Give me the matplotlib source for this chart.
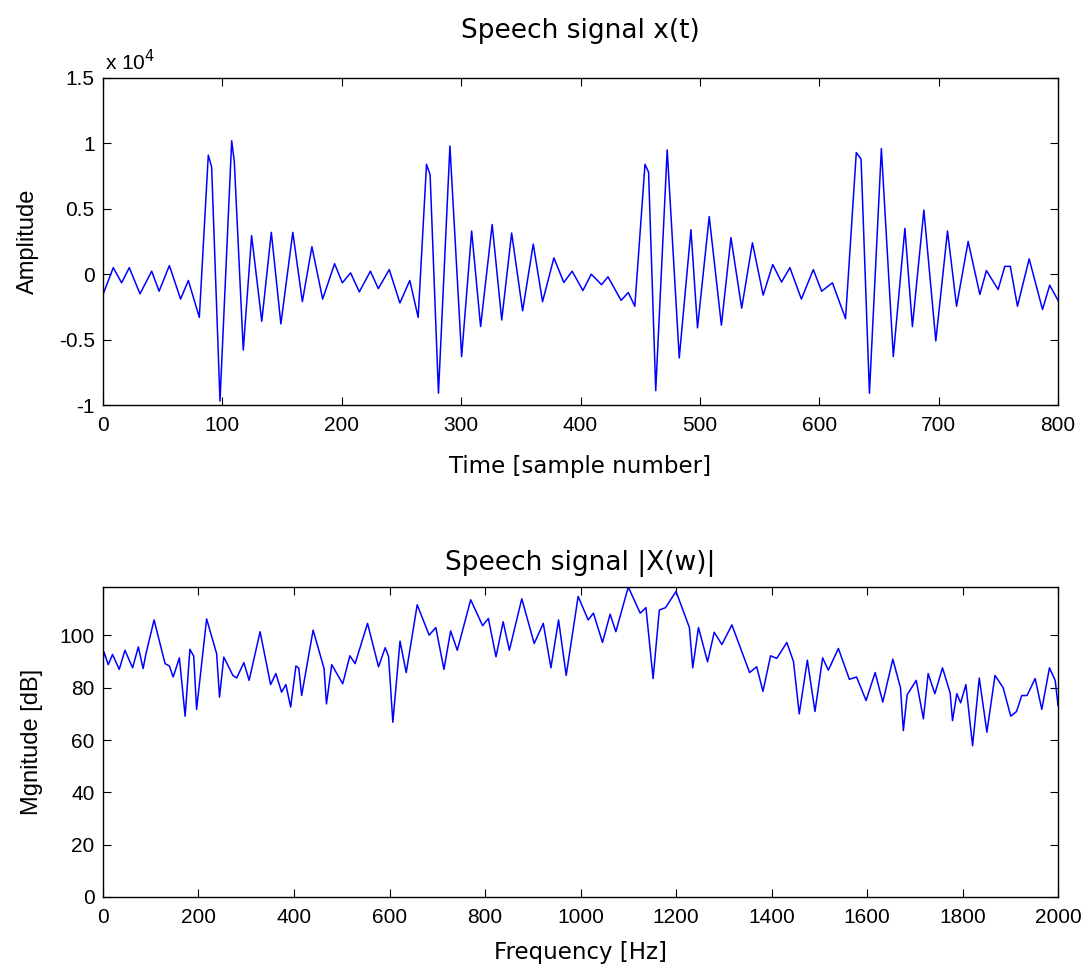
import numpy as np
import matplotlib
matplotlib.use("Agg")
import matplotlib.pyplot as plt
from matplotlib.ticker import FuncFormatter

plt.rcParams['font.family'] = ['Liberation Sans', 'DejaVu Sans']
plt.rcParams['axes.unicode_minus'] = False

# speech waveform, extrema (sample number, amplitude)
t_samples = [0, 8.6, 15.6, 22, 31, 40.8, 47, 55.6, 65, 71.5, 80.7, 88.2, 91, 98, 107.8, 110, 117.5,
             124.5, 133, 141, 149, 159, 167, 175, 184, 194, 200.5, 207.4, 214.7, 224, 230.6,
             239.8, 248.7, 257, 264, 271, 274, 281, 290.6, 300.4, 308.8, 316.3, 326, 334, 342.3,
             351.5, 360.4, 368.2, 377.7, 386, 393, 402, 409, 417.6, 423, 434, 440, 445.5,
             454, 457, 463, 472.6, 482.7, 492.5, 498, 507.8, 518, 526, 535, 544, 553, 561, 568.4,
             575.4, 585, 595, 602, 611, 622, 631, 635, 642, 652, 662, 671.7, 678, 687.6, 697.6,
             707.4, 715, 724.7, 734.5, 740, 749.8, 755.4, 760, 766, 775.8, 787, 793, 800]
amplitude = [-1550, 500, -660, 500, -1500, 230, -1300, 660, -1900, -480, -3300, 9100, 8200, -9700,
             10200, 8600, -5800, 2950, -3600, 3200, -3800, 3200, -2100, 2100, -1900, 800, -660, 100,
             -1350, 230, -1100, 350, -2200, -480, -3300, 8400, 7600, -9100, 9800, -6300, 3300, -4000,
             3800, -3500, 3150, -2800, 2300, -2100, 1250, -630, 230, -1250, 0, -800, -200,
             -2000, -1400, -2450, 8400, 7800, -8900, 9500, -6400, 3400, -4100, 4400, -3900, 2800,
             -2600, 2400, -1600, 740, -600, 500, -1900, 350, -1300, -660, -3400, 9300, 8800, -9100,
             9600, -6300, 3500, -4000, 4900, -5100, 3300, -2450, 2500, -1550, 280, -1170, 600,
             600, -2450, 1170, -2700, -840, -2000]

# magnitude spectrum (Hz, dB)
freq_hz = [0, 2, 11, 20, 34, 46, 62, 74, 84, 90, 107, 130, 139, 147, 160, 172, 182, 190, 196,
           217, 238, 244, 253, 272, 280, 295, 306, 329, 351, 362, 374, 383, 393, 404, 410, 416,
           440, 463, 468, 479, 502, 517, 528, 554, 577, 591, 598, 607, 622, 635, 658, 683, 697,
           714, 728, 742, 770, 795, 807, 823, 838, 851, 877, 903, 922, 938, 954, 970, 995,
           1016, 1027, 1046, 1062, 1074, 1100, 1125, 1137, 1152, 1165, 1178, 1200, 1228, 1235,
           1247, 1266, 1280, 1296, 1317, 1354, 1369, 1382, 1398, 1411, 1432, 1446, 1458, 1475,
           1491, 1507, 1519, 1540, 1563, 1578, 1598, 1617, 1633, 1654, 1670, 1676, 1684, 1703,
           1718, 1728, 1742, 1758, 1774, 1779, 1788, 1796, 1807, 1821, 1835, 1851, 1868, 1885,
           1901, 1913, 1924, 1935, 1952, 1966, 1982, 1994, 2000]
magnitude_db = [90, 93.7, 88.8, 92.7, 87, 94.3, 87.6, 95.6, 87.3, 93, 105.9, 89.2, 88.3, 84.1,
                91.4, 69.1, 94.7, 92, 71.7, 106.3, 93, 76.4, 91.7, 84.7, 83.7, 89.6, 82.8, 101.4,
                81.2, 85.4, 78.3, 81.2, 72.6, 88.3, 87.5, 77, 102, 87.3, 73.8, 88.8, 81.5, 92.2,
                89.2, 104.6, 88, 95.3, 92, 66.8, 97.8, 85.8, 111.7, 100.1, 103, 87, 101.7, 94.3,
                113.6, 103.7, 106.5, 91.8, 105.2, 94.3, 114, 96.9, 104.6, 87.6, 105.9, 84.7,
                114.9, 105.9, 108.5, 97.3, 108.1, 101.4, 118.5, 108.5, 110.6, 83.5, 109.7, 110.6,
                116.8, 103, 87.6, 103, 89.9, 101.2, 96.5, 104, 85.8, 88, 78.6, 92.2, 91.2, 97.3,
                90, 70, 90.5, 70.9, 91.4, 86.7, 95, 83.2, 84.1, 75.1, 85.8, 74.5, 90.9, 80, 63.6,
                77.3, 82.8, 68.1, 85.4, 77.7, 87.6, 78, 67.4, 77.7, 74.2, 81.2, 57.8, 83.7, 63,
                84.7, 80, 69.1, 70.9, 77, 77, 83.5, 71.7, 87.6, 82.8, 73.2]

fig = plt.figure(figsize=(10.91, 9.72), dpi=100)
ax1 = fig.add_axes([0.0944, 0.5833, 0.8754, 0.3365])
ax2 = fig.add_axes([0.0944, 0.0772, 0.8754, 0.3189])

label_font = dict(family=['DejaVu Sans'], fontsize=16.5)
title_font = dict(family=['DejaVu Sans'], fontsize=19)

ax1.plot(np.array(t_samples), np.array(amplitude) / 1e4, color='#0000ff', lw=1.1)
ax1.set_xlim(0, 800)
ax1.set_ylim(-1, 1.5)
ax1.set_xticks(range(0, 801, 100))
ax1.set_yticks([-1, -0.5, 0, 0.5, 1, 1.5])
ax1.yaxis.set_major_formatter(FuncFormatter(lambda v, p: '%g' % v))
ax1.set_title('Speech signal x(t)', pad=29, **title_font)
ax1.set_xlabel('Time [sample number]', labelpad=14, **label_font)
ax1.set_ylabel('Amplitude', fontsize=17, labelpad=14)
ax1.text(0.002, 1.012, 'x 10$^{4}$', transform=ax1.transAxes, fontsize=15, va='bottom')

ax2.plot(freq_hz, magnitude_db, color='#0000ff', lw=1.1)
ax2.set_xlim(0, 2000)
ax2.set_ylim(0, 118.5)
ax2.set_xticks(range(0, 2001, 200))
ax2.set_yticks(range(0, 101, 20))
ax2.set_title('Speech signal |X(w)|', pad=12, **title_font)
ax2.set_xlabel('Frequency [Hz]', labelpad=10, **label_font)
ax2.set_ylabel('Mgnitude [dB]', fontsize=17, labelpad=12)

for ax in (ax1, ax2):
    ax.tick_params(direction='in', top=True, right=True, labelsize=15, length=6)
    ax.tick_params(axis='x', pad=8)
    ax.tick_params(axis='y', pad=6)
    for s in ax.spines.values():
        s.set_linewidth(1.0)

fig.savefig('out.png', dpi=100)
